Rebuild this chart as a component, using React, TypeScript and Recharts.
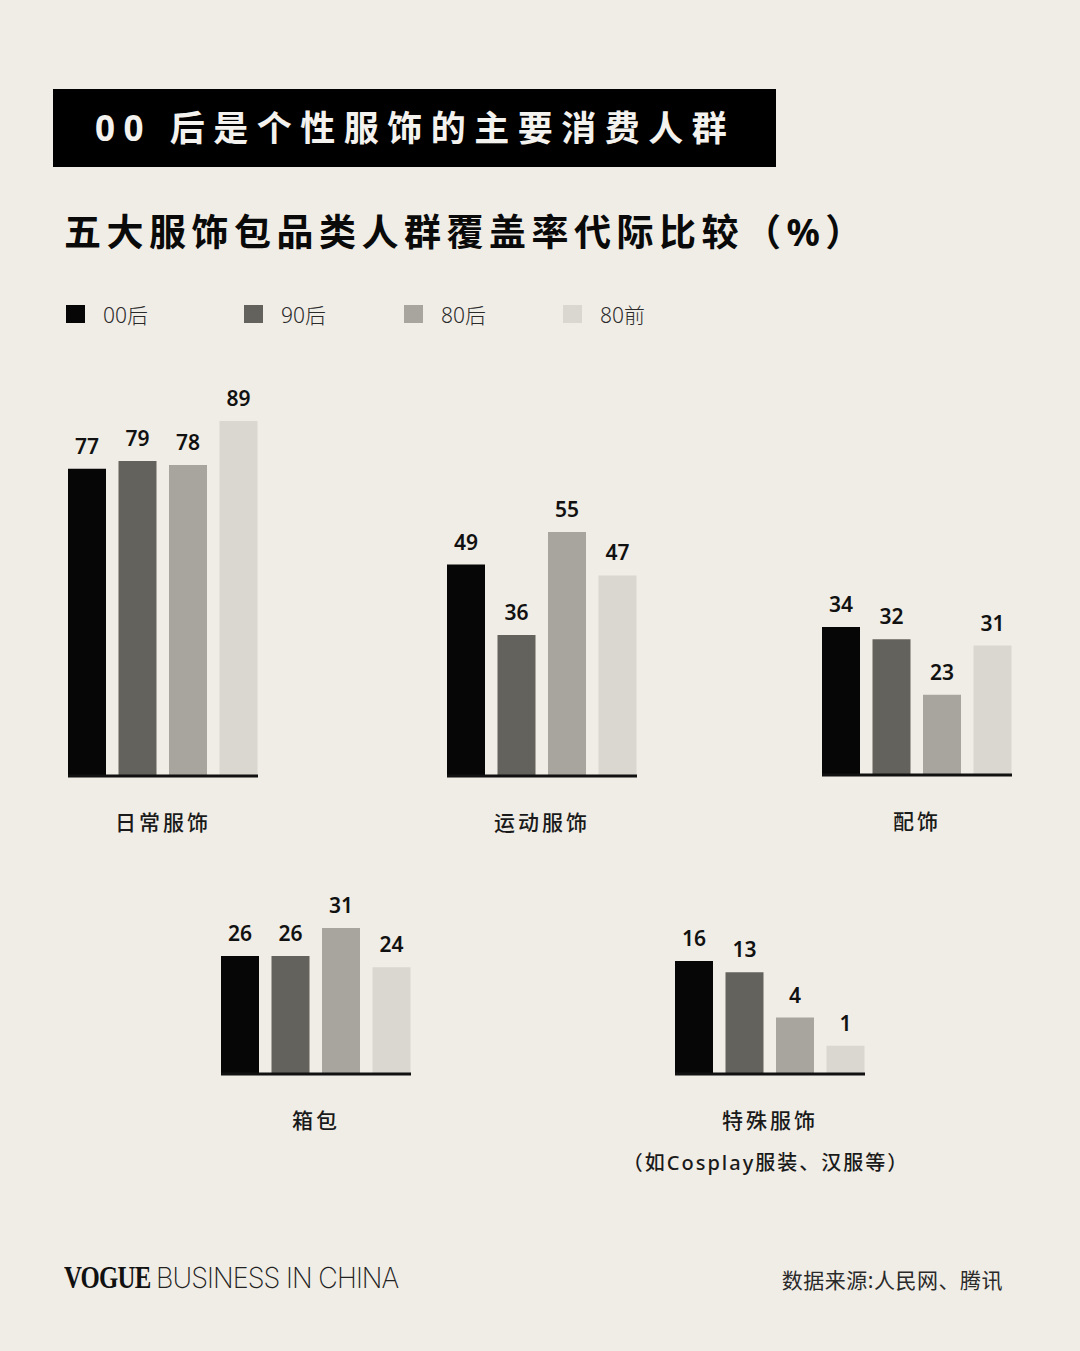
import { Bar, BarChart, LabelList, XAxis, YAxis } from "recharts";

const BG = "#f0ede6";
const FONT = '"Noto Sans", "Noto Sans CJK SC", sans-serif';

const categories = ["日常服饰", "运动服饰", "配饰", "箱包", "特殊服饰"];
const subLabels = ["", "", "", "", "（如Cosplay服装、汉服等）"];

const series = ["00后", "90后", "80后", "80前"];
const seriesColors = ["#060606", "#64625d", "#a8a59f", "#d9d7cf"];

const v00 = [77, 49, 34, 26, 16];
const v90 = [79, 36, 32, 26, 13];
const v80 = [78, 55, 23, 31, 4];
const vPre80 = [89, 47, 31, 24, 1];

// where each small chart sits on the page (plot box) and its y domain
const panels = [
  { left: 68, top: 421, plotH: 355, domain: [0, 89], scale: "linear" },
  { left: 447, top: 532, plotH: 244, domain: [10, 55], scale: "linear" },
  { left: 822, top: 627, plotH: 148, domain: [10, 34], scale: "linear" },
  { left: 221, top: 928, plotH: 146, domain: [5, 31], scale: "linear" },
  { left: 675, top: 961, plotH: 113, domain: [0, 16], scale: "sqrt" },
];

const PLOT_W = 190;
const TOP_PAD = 50;
const AXIS_H = 80;

function CategoryTick({ x, y, payload }: any) {
  return (
    <text
      x={x}
      y={y + 46}
      textAnchor="middle"
      dominantBaseline="central"
      fill="#1a1a1a"
      fontSize={21}
      fontWeight={500}
      letterSpacing={3}
      fontFamily={FONT}
    >
      {payload.value}
    </text>
  );
}

function Panel({ idx }: { idx: number }) {
  const p = panels[idx];
  const row = [{ name: categories[idx], s0: v00[idx], s1: v90[idx], s2: v80[idx], s3: vPre80[idx] }];
  return (
    <div style={{ position: "absolute", left: p.left, top: p.top - TOP_PAD }}>
      <BarChart
        width={PLOT_W}
        height={TOP_PAD + p.plotH + AXIS_H}
        data={row}
        margin={{ top: TOP_PAD, right: 0, left: 0, bottom: 0 }}
        barCategoryGap={0}
        barGap={12.5}
      >
        <YAxis hide type="number" domain={p.domain} scale={p.scale as any} width={0} />
        <XAxis
          dataKey="name"
          height={AXIS_H}
          tickLine={false}
          tickSize={0}
          tickMargin={0}
          axisLine={{ stroke: "#111", strokeWidth: 3 }}
          tick={<CategoryTick />}
          interval={0}
        />
        {series.map((s, i) => (
          <Bar key={s} dataKey={`s${i}`} name={s} fill={seriesColors[i]} barSize={38} isAnimationActive={false}>
            <LabelList
              dataKey={`s${i}`}
              position="top"
              offset={15}
              fill="#111"
              fontSize={21}
              fontWeight={600}
              fontFamily={FONT}
            />
          </Bar>
        ))}
      </BarChart>
      {subLabels[idx] ? (
        <div
          style={{
            position: "absolute",
            left: PLOT_W / 2 - 4 - 200,
            width: 400,
            top: TOP_PAD + p.plotH + 74,
            lineHeight: "30px",
            textAlign: "center",
            fontSize: 20,
            fontWeight: 500,
            letterSpacing: 2,
            color: "#1a1a1a",
            whiteSpace: "nowrap",
          }}
        >
          {subLabels[idx]}
        </div>
      ) : null}
    </div>
  );
}

const legendX = [66, 244, 404, 563];

export default function App() {
  return (
    <div
      style={{
        position: "absolute",
        left: 0,
        top: 0,
        width: 1080,
        height: 1351,
        background: BG,
        fontFamily: FONT,
        overflow: "hidden",
      }}
    >
      <div
        style={{
          position: "absolute",
          left: 53,
          top: 89,
          width: 723,
          height: 78,
          background: "#000",
        }}
      />
      <div
        style={{
          position: "absolute",
          left: 95,
          top: 89,
          height: 78,
          lineHeight: "78px",
          color: "#f4f2ee",
          fontSize: 35,
          fontWeight: 700,
          letterSpacing: 8.5,
          whiteSpace: "nowrap",
        }}
      >
        00 后是个性服饰的主要消费人群
      </div>
      <div
        style={{
          position: "absolute",
          left: 64,
          top: 206,
          lineHeight: "52px",
          color: "#0a0a0a",
          fontSize: 37,
          fontWeight: 700,
          letterSpacing: 5.5,
          whiteSpace: "nowrap",
        }}
      >
        五大服饰包品类人群覆盖率代际比较（%）
      </div>

      {series.map((s, i) => (
        <div key={s}>
          <div
            style={{
              position: "absolute",
              left: legendX[i],
              top: 305,
              width: 19,
              height: 18,
              background: seriesColors[i],
            }}
          />
          <div
            style={{
              position: "absolute",
              left: legendX[i] + 37,
              top: 300,
              lineHeight: "30px",
              fontSize: 21,
              fontWeight: 300,
              color: "#2a2a2a",
              whiteSpace: "nowrap",
            }}
          >
            {s}
          </div>
        </div>
      ))}

      {panels.map((_, i) => (
        <Panel key={i} idx={i} />
      ))}

      <div
        style={{
          position: "absolute",
          left: 64,
          top: 1258,
          lineHeight: "40px",
          whiteSpace: "nowrap",
          display: "flex",
          alignItems: "baseline",
        }}
      >
        <span
          style={{
            fontFamily: '"Liberation Serif", serif',
            fontWeight: 700,
            fontSize: 31,
            color: "#111",
            display: "inline-block",
            transform: "scaleX(0.8)",
            transformOrigin: "left",
            width: 92,
            letterSpacing: -1,
          }}
        >
          VOGUE
        </span>
        <span
          style={{
            fontFamily: "Inter, sans-serif",
            fontWeight: 200,
            fontSize: 29,
            color: "#222",
            display: "inline-block",
            transform: "scaleX(0.93)",
            transformOrigin: "left",
            letterSpacing: -1,
          }}
        >
          BUSINESS IN CHINA
        </span>
      </div>
      <div
        style={{
          position: "absolute",
          right: 77,
          top: 1265,
          lineHeight: "30px",
          fontSize: 21,
          fontWeight: 400,
          letterSpacing: 0.5,
          color: "#2a2a2a",
          whiteSpace: "nowrap",
        }}
      >
        数据来源:人民网、腾讯
      </div>
    </div>
  );
}
